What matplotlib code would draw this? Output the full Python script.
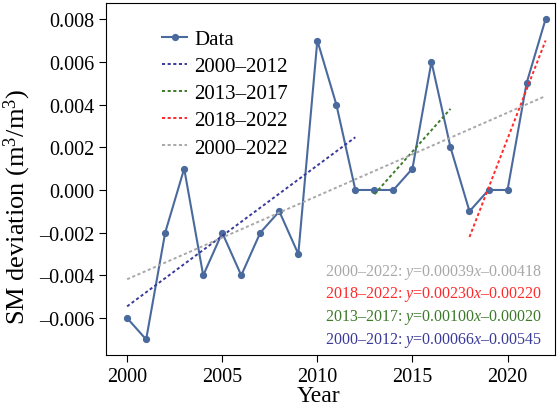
import matplotlib
matplotlib.use('Agg')
import matplotlib.pyplot as plt
import numpy as np

plt.rcParams['font.family'] = 'Liberation Serif'
plt.rcParams['mathtext.fontset'] = 'custom'
plt.rcParams['mathtext.rm'] = 'Liberation Serif'
plt.rcParams['mathtext.it'] = 'Liberation Serif:italic'

years = np.arange(2000, 2023)
sm = [-0.006, -0.007, -0.002, 0.001, -0.004, -0.002, -0.004, -0.002, -0.001, -0.003,
      0.007, 0.004, 0.0, 0.0, 0.0, 0.001, 0.006, 0.002, -0.001, 0.0, 0.0, 0.005, 0.008]

# trend periods: (start, end, slope, intercept)
periods = ['2000–2012', '2013–2017', '2018–2022', '2000–2022']
starts = [2000, 2013, 2018, 2000]
ends = [2012, 2017, 2022, 2022]
slopes = [0.00066, 0.00100, 0.00230, 0.00039]
intercepts = [-0.00545, -0.00020, -0.00220, -0.00418]
colors = ['#3a3a9a', '#3d7a2a', '#ff2a2a', '#a8a8a8']

fig, ax = plt.subplots(figsize=(5.59, 4.14), dpi=100)
fig.subplots_adjust(left=0.19, right=0.993, top=0.99, bottom=0.14)

ax.plot(years, sm, '-o', color='#4a6a9e', ms=4.2, lw=1.5, label='Data')
for p, s, e, k, b, c in zip(periods, starts, ends, slopes, intercepts, colors):
    xx = np.array([s, e])
    ax.plot(xx, k * (xx - s) + b, ':', color=c, lw=1.4, label=p, dashes=(1.6, 1.3))

# equations, bottom-up
for i, (p, k, b, c) in enumerate(zip(periods, slopes, intercepts, colors)):
    txt = p + ': $y$=%.5f$x$–%.5f' % (k, abs(b))
    ax.text(0.972, 0.045 + i * 0.0645, txt, transform=ax.transAxes, ha='right',
            va='center', color=c, fontsize=11.5)

ax.set_xlim(1998.9, 2022.5)
ax.set_ylim(-0.00773, 0.00875)
ax.set_xticks([2000, 2005, 2010, 2015, 2020])
ax.set_yticks(np.arange(-0.006, 0.0081, 0.002))
ax.yaxis.set_major_formatter(plt.FuncFormatter(lambda v, _: ('%.3f' % v).replace('-', '–')))
ax.tick_params(labelsize=14.5, direction='out', length=5)
ax.set_xlabel('Year', fontsize=17)
ax.set_ylabel('SM deviation (m$^3$/m$^3$)', fontsize=19)
ax.xaxis.set_label_coords(0.472, -0.085)
ax.yaxis.set_label_coords(-0.163, 0.423)
ax.legend(loc='upper left', bbox_to_anchor=(0.083, 0.978), frameon=False, fontsize=15,
          handlelength=1.2, labelspacing=0.36, handletextpad=0.35)

fig.savefig('out.png', dpi=100)
